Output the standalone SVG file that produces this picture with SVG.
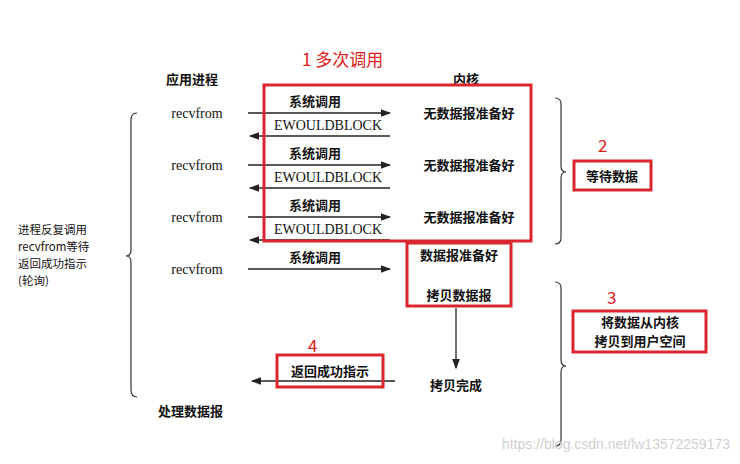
<svg xmlns="http://www.w3.org/2000/svg" width="740" height="464" viewBox="0 0 740 464">
<style>
.t{font-family:"Noto Sans CJK SC","Liberation Serif",serif;font-size:13px;font-weight:bold;fill:#111}
.n{font-family:"Noto Sans CJK SC","Liberation Serif",serif;font-size:11.5px;fill:#111}
.e{font-family:"Liberation Serif",serif;font-size:14px;fill:#111}
.r{font-family:"Noto Sans CJK SC",sans-serif;font-size:17px;fill:#e02020}
.box{fill:none;stroke:#d9262f;stroke-width:3}
.ln{stroke:#222;stroke-width:1.3;fill:none}
.br{stroke:#333;stroke-width:1.2;fill:none}
</style>
<defs><marker id="a" markerWidth="8" markerHeight="6" refX="7" refY="3" orient="auto"><path d="M0,0 L8,3 L0,6 z" fill="#222"/></marker></defs>
<rect width="740" height="464" fill="#fff"/>
<g id="connectors">
<line class="ln" x1="248" y1="113" x2="390" y2="113" marker-end="url(#a)"/>
<line class="ln" x1="390" y1="136" x2="250" y2="136" marker-end="url(#a)"/>
<line class="ln" x1="248" y1="165" x2="390" y2="165" marker-end="url(#a)"/>
<line class="ln" x1="390" y1="188" x2="250" y2="188" marker-end="url(#a)"/>
<line class="ln" x1="248" y1="217" x2="390" y2="217" marker-end="url(#a)"/>
<line class="ln" x1="390" y1="240" x2="250" y2="240" marker-end="url(#a)"/>
<line class="ln" x1="248" y1="269" x2="390" y2="269" marker-end="url(#a)"/>
<line class="ln" x1="395" y1="381" x2="252" y2="381" marker-end="url(#a)"/>
<line class="ln" x1="456" y1="308" x2="456" y2="368" marker-end="url(#a)"/>
</g>
<g id="braces">
<path class="br" d="M137,113 Q131,113 131,120 L131,250 Q131,256 126,256 Q131,256 131,262 L131,390 Q131,397 137,397"/>
<path class="br" d="M555,98 Q561,98 561,104 L561,166 Q561,172 566,172 Q561,172 561,178 L561,238 Q561,244 555,244"/>
<path class="br" d="M555,282 Q561,282 561,288 L561,360 Q561,366 566,366 Q561,366 561,372 L561,440 Q561,446 555,446"/>
</g>
<g id="headers">
<text class="t" x="166" y="84" font-size="14">应用进程</text>
<text class="t" x="453" y="84" font-size="14">内核</text>
</g>
<g id="app">
<text class="e" x="197" y="118" text-anchor="middle">recvfrom</text>
<text class="e" x="197" y="170" text-anchor="middle">recvfrom</text>
<text class="e" x="197" y="222" text-anchor="middle">recvfrom</text>
<text class="e" x="197" y="274" text-anchor="middle">recvfrom</text>
<text class="t" x="158" y="416">处理数据报</text>
</g>
<g id="calls">
<text class="t" x="315" y="106" text-anchor="middle">系统调用</text>
<text class="e" x="328" y="130" text-anchor="middle" font-size="13">EWOULDBLOCK</text>
<text class="t" x="315" y="158" text-anchor="middle">系统调用</text>
<text class="e" x="328" y="182" text-anchor="middle" font-size="13">EWOULDBLOCK</text>
<text class="t" x="315" y="210" text-anchor="middle">系统调用</text>
<text class="e" x="328" y="234" text-anchor="middle" font-size="13">EWOULDBLOCK</text>
<text class="t" x="315" y="262" text-anchor="middle">系统调用</text>
</g>
<g id="kernel">
<text class="t" x="469" y="118" text-anchor="middle">无数据报准备好</text>
<text class="t" x="469" y="170" text-anchor="middle">无数据报准备好</text>
<text class="t" x="469" y="222" text-anchor="middle">无数据报准备好</text>
<text class="t" x="459" y="260" text-anchor="middle">数据报准备好</text>
<text class="t" x="459" y="300" text-anchor="middle">拷贝数据报</text>
<text class="t" x="456" y="390" text-anchor="middle">拷贝完成</text>
</g>
<g id="left-note">
<text class="n" x="18" y="234">进程反复调用</text>
<text class="n" x="18" y="251">recvfrom等待</text>
<text class="n" x="18" y="268">返回成功指示</text>
<text class="n" x="18" y="285">(轮询)</text>
</g>
<g id="annotations">
<rect class="box" x="264" y="85" width="267" height="156"/>
<rect class="box" x="574" y="161" width="77" height="29"/>
<rect class="box" x="407" y="243" width="104" height="63"/>
<rect class="box" x="573" y="311" width="133" height="41"/>
<rect class="box" x="277" y="355" width="106" height="32"/>
<text class="r" x="302" y="66">1  多次调用</text>
<text class="r" x="598" y="152">2</text>
<text class="r" x="607" y="304">3</text>
<text class="r" x="308" y="352">4</text>
<text class="t" x="612" y="181" text-anchor="middle">等待数据</text>
<text class="t" x="640" y="327" text-anchor="middle">将数据从内核</text>
<text class="t" x="640" y="346" text-anchor="middle">拷贝到用户空间</text>
<text class="t" x="330" y="376" text-anchor="middle">返回成功指示</text>
</g>
<text x="730" y="449" text-anchor="end" font-family="Liberation Sans,sans-serif" font-size="14" fill="#d0d0d0">https://blog.csdn.net/lw13572259173</text>
</svg>
